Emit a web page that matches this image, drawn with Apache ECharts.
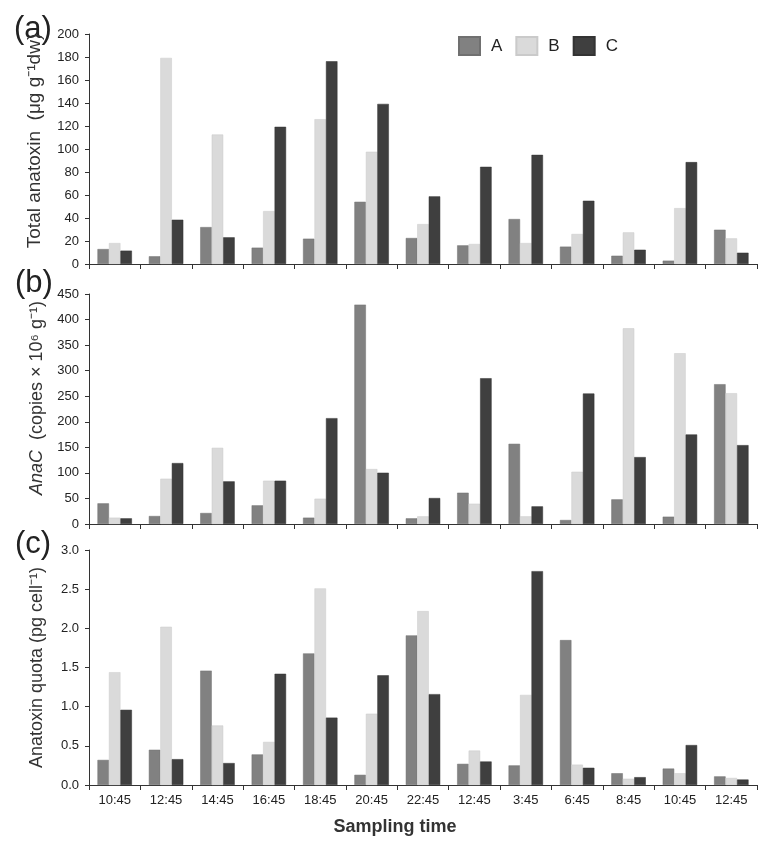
<!DOCTYPE html>
<html>
<head>
<meta charset="utf-8">
<script src="https://cdn.jsdelivr.net/npm/echarts@6/dist/echarts.min.js"></script>
<style>
html,body{margin:0;padding:0;background:#fff;}
#chart{width:778px;height:848px;}
</style>
</head>
<body>
<div id="chart"></div>
<script>
const categories = ['10:45','12:45','14:45','16:45','18:45','20:45','22:45','12:45','3:45','6:45','8:45','10:45','12:45'];
const seriesNames = ['A','B','C'];

// Panel (a): Total anatoxin (µg g-1 dw)
const toxA = [13.0, 6.7, 32.1, 14.2, 22.0, 54.1, 22.6, 16.2, 39.1, 15.1, 7.2, 2.9, 29.8];
const toxB = [18.2, 179.2, 112.6, 46.0, 125.9, 97.6, 34.7, 17.4, 18.2, 26.1, 27.5, 48.6, 22.3];
const toxC = [11.6, 38.5, 23.2, 119.3, 176.3, 139.2, 58.8, 84.5, 94.9, 55.0, 12.4, 88.6, 9.8];

// Panel (b): AnaC copies x 10^6 g-1
const anaA = [40.4, 15.6, 21.5, 36.5, 12.4, 429.2, 11.1, 61.2, 156.9, 7.8, 48.2, 14.3, 273.5];
const anaB = [12.4, 88.6, 149.1, 84.7, 49.5, 107.5, 15.0, 39.7, 15.0, 102.2, 382.9, 334.1, 255.9];
const anaC = [11.1, 119.2, 83.4, 84.7, 207.1, 100.3, 50.8, 285.2, 34.5, 255.3, 130.9, 175.2, 154.3];

// Panel (c): Anatoxin quota (pg cell-1)
const quoA = [0.32, 0.45, 1.46, 0.39, 1.68, 0.13, 1.91, 0.27, 0.25, 1.85, 0.15, 0.21, 0.11];
const quoB = [1.44, 2.02, 0.76, 0.55, 2.51, 0.91, 2.22, 0.44, 1.15, 0.26, 0.08, 0.15, 0.09];
const quoC = [0.96, 0.33, 0.28, 1.42, 0.86, 1.40, 1.16, 0.30, 2.73, 0.22, 0.10, 0.51, 0.07];

const yTicksA = {min:0, max:200, interval:20};
const yTicksB = {min:0, max:450, interval:50};
const yTicksC = {min:0, max:3, interval:0.5};

const colors = ['#818181', '#dadada', '#3f3f3f'];
const borders = ['#707070', '#cacaca', '#333333'];
const FONT = '"Liberation Sans", Arial, Helvetica, sans-serif';

const chart = echarts.init(document.getElementById('chart'), null, {renderer:'canvas'});

const gridDefs = [
  {left:89, right:21, top:34, height:230},
  {left:89, right:21, top:294, height:230},
  {left:89, right:21, top:550, height:235}
];

function xAx(i, showLabels){
  return {
    type:'category', gridIndex:i, data:categories,
    axisLine:{lineStyle:{color:'#333', width:1}},
    axisTick:{show:true, length:5, lineStyle:{color:'#333'}},
    axisLabel:{show:showLabels, color:'#222', fontSize:13, fontFamily:FONT, margin:9},
    name: showLabels ? 'Sampling time' : '',
    nameLocation:'middle', nameGap:33,
    nameTextStyle:{fontSize:18, fontWeight:'bold', color:'#333', fontFamily:FONT, padding:[0,56,0,0]}
  };
}
function yAx(i, ticks, name, gap, fmt, size, pad, rich){
  const o = {
    type:'value', gridIndex:i, min:ticks.min, max:ticks.max, interval:ticks.interval,
    axisLine:{show:true, lineStyle:{color:'#333', width:1}},
    axisTick:{show:true, length:4, lineStyle:{color:'#333'}},
    splitLine:{show:false},
    axisLabel:{color:'#222', fontSize:13, fontFamily:FONT, margin:10, formatter:fmt},
    name:name, nameLocation:'middle', nameGap:gap, nameRotate:90,
    nameTextStyle:{fontSize:size, color:'#333', fontFamily:FONT, padding:[0,0,0,pad]}
  };
  if (rich) o.nameTextStyle.rich = rich;
  return o;
}

const panels = [[toxA,toxB,toxC],[anaA,anaB,anaC],[quoA,quoB,quoC]];
const series = [];
panels.forEach((p, gi) => {
  p.forEach((d, si) => {
    series.push({
      name: seriesNames[si], type:'bar', xAxisIndex:gi, yAxisIndex:gi, data:d,
      barGap:'0%', barCategoryGap:'33%',
      itemStyle:{color:colors[si], borderColor:borders[si], borderWidth:0.5},
      emphasis:{disabled:true}, animation:false
    });
  });
});

chart.setOption({
  animation:false,
  backgroundColor:'#ffffff',
  textStyle:{fontFamily:FONT},
  grid: gridDefs,
  legend:{
    data:seriesNames, left:453, top:31, itemWidth:21, itemHeight:18, itemGap:13,
    icon:'rect',
    textStyle:{fontSize:17, color:'#222', fontFamily:FONT, padding:[0,0,0,6]}
  },
  xAxis:[xAx(0,false), xAx(1,false), xAx(2,true)],
  yAxis:[
    yAx(0, yTicksA, 'Total anatoxin  (\u03bcg g\u207b\u00b9dw)', 45, v => String(v), 19, 16),
    yAx(1, yTicksB, '{i|AnaC}  (copies \u00d7 10\u2076 g\u207b\u00b9)', 43, v => String(v), 18, 22,
        {i:{fontStyle:'italic', fontSize:18, color:'#333', fontFamily:FONT}}),
    yAx(2, yTicksC, 'Anatoxin quota (pg cell\u207b\u00b9)', 43, v => v.toFixed(1), 18, 0)
  ],
  graphic:[
    {type:'text', left:14, top:14, style:{text:'(a)', fontSize:31, fill:'#222', fontFamily:FONT}},
    {type:'text', left:15, top:268, style:{text:'(b)', fontSize:31, fill:'#222', fontFamily:FONT}},
    {type:'text', left:15, top:529, style:{text:'(c)', fontSize:31, fill:'#222', fontFamily:FONT}}
  ],
  series: series
});
</script>
</body>
</html>
